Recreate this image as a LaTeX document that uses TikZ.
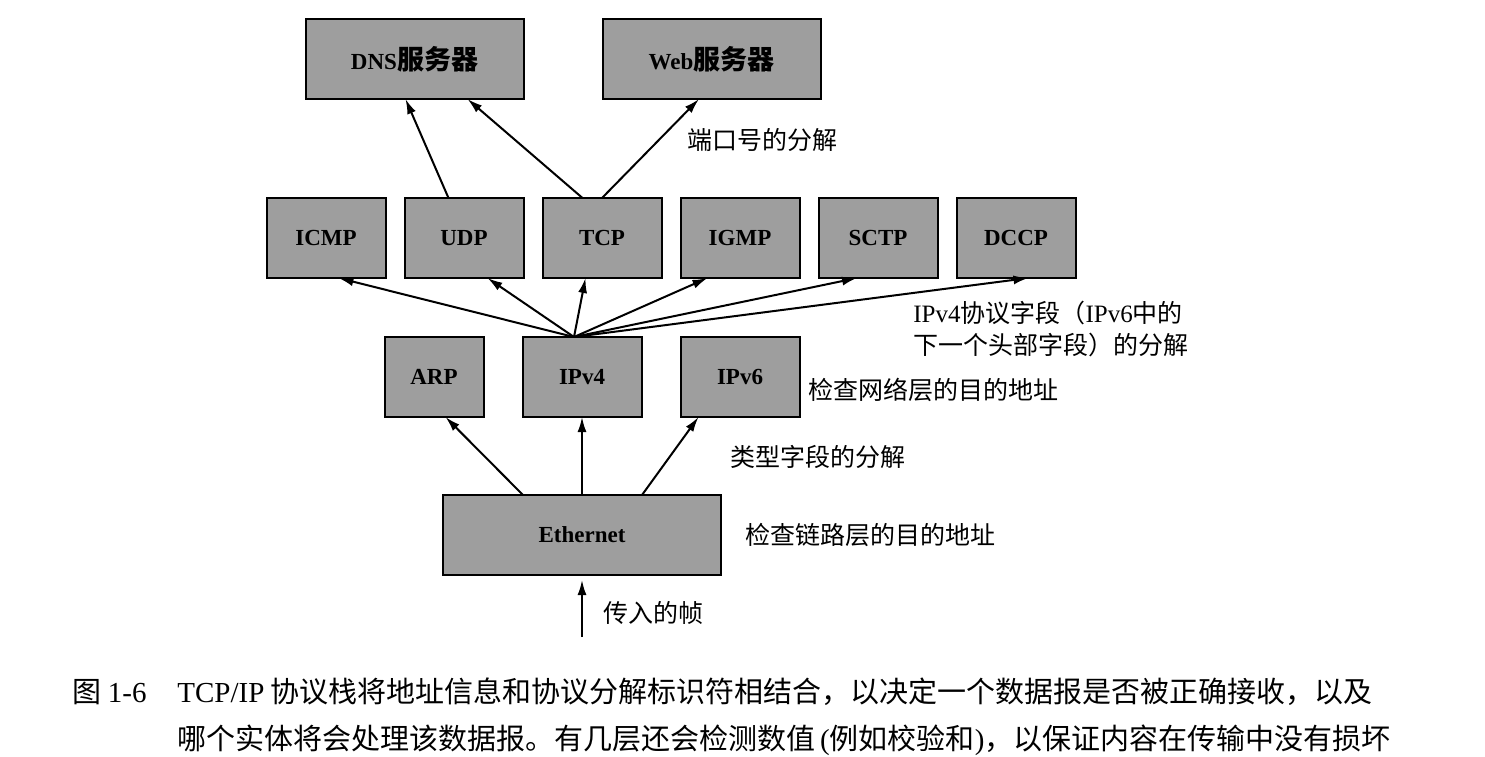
\documentclass[tikz,border=0pt]{standalone}
\usepackage{fontspec}
\setmainfont{Liberation Serif}
\newfontfamily\cjk{Noto Sans CJK SC}
\usetikzlibrary{positioning, arrows.meta, calc}
\newcommand{\zh}[1]{{\cjk\fontsize{13.5pt}{15pt}\selectfont #1}}
\tikzset{
  box/.style={rectangle, draw=black, line width=1pt, fill=black!38,
    minimum width=59.5pt, minimum height=40pt, inner sep=0pt, outer sep=0pt,
    font=\bfseries\fontsize{11.5pt}{13pt}\selectfont},
  wide/.style={box, minimum width=109pt},
  lbl/.style={inner sep=0pt, align=left, font=\cjk\fontsize{12.5pt}{16pt}\selectfont},
  captext/.style={inner sep=0pt, anchor=west, font=\cjk\fontsize{14.5pt}{18pt}\selectfont},
  flow/.style={-{Latex[length=7.5pt,width=4.5pt]}, line width=1pt},
}

\begin{document}
\begin{tikzpicture}[node distance=19.5pt]
    \useasboundingbox (0,0) rectangle (742.5pt,-378pt);
    \node[box, minimum width=139pt] (eth) at (291pt,-267.5pt) {Ethernet};
    \node[box, above=39pt of eth] (ipv4) {IPv4};
    \node[box, minimum width=49.5pt, left=of ipv4] (arp) {ARP};
    \node[box, right=of ipv4] (ipv6) {IPv6};
    \node[box, above=29.5pt of ipv4, xshift=10pt] (tcp) {TCP};
    \node[box, left=9.5pt of tcp] (udp) {UDP};
    \node[box, left=9.5pt of udp] (icmp) {ICMP};
    \node[box, right=9.5pt of tcp] (igmp) {IGMP};
    \node[box, right=9.5pt of igmp] (sctp) {SCTP};
    \node[box, right=9.5pt of sctp] (dccp) {DCCP};
    \node[wide, above=49.5pt of udp, xshift=-24.75pt] (dns) {DNS\zh{服务器}};
    \node[wide, right=39.5pt of dns] (web) {Web\zh{服务器}};
    % labels
    \node[lbl, anchor=west] (portlbl) at (343.5pt,-70pt) {端口号的分解};
    \node[lbl, anchor=west] (protolbl) at (456.5pt,-164.5pt) {\textrm{IPv4}协议字段（\textrm{IPv6}中的\\下一个头部字段）的分解};
    \node[lbl, right=4.5pt of ipv6, yshift=-6.5pt] (netlbl) {检查网络层的目的地址};
    \node[lbl, anchor=west] (typelbl) at (365pt,-228.5pt) {类型字段的分解};
    \node[lbl, right=12pt of eth] (linklbl) {检查链路层的目的地址};
    \coordinate[below=31pt of eth] (in);
    \node[lbl, anchor=west] (inlbl) at (301.5pt,-306.5pt) {传入的帧};
    % arrows
    \coordinate (fan) at ([xshift=-4pt]ipv4.north);
    \draw[flow] (in) -- ([yshift=-2.5pt]eth.south);
    \draw[flow] ([xshift=-29.5pt]eth.north) -- ([xshift=5.75pt]arp.south);
    \draw[flow] (eth) -- (ipv4);
    \draw[flow] ([xshift=30pt]eth.north) -- ([xshift=-20.75pt]ipv6.south);
    \draw[flow] (fan) -- ([xshift=6.25pt]icmp.south); \draw[flow] (fan) -- ([xshift=11.75pt]udp.south);
    \draw[flow] (fan) -- ([xshift=-8.25pt]tcp.south); \draw[flow] (fan) -- ([xshift=-16.25pt]igmp.south);
    \draw[flow] (fan) -- ([xshift=-10.5pt]sctp.south); \draw[flow] (fan) -- ([xshift=6.25pt]dccp.south);
    \draw[flow] ([xshift=-7.75pt]udp.north) -- ([xshift=-4.5pt]dns.south);
    \draw[flow] ([xshift=-9.75pt]tcp.north) -- ([xshift=26.5pt]dns.south);
    \draw[flow] (tcp.north) -- ([xshift=-6.25pt]web.south);
    % caption
    \node[captext] (fignum) at (36pt,-346pt) {图 \textrm{1-6}};
    \node[captext] (cap1) at (88.5pt,-346pt) {\textrm{TCP/IP} 协议栈将地址信息和协议分解标识符相结合，以决定一个数据报是否被正确接收，以及};
    \node[captext] (cap2) at (88.5pt,-370pt) {哪个实体将会处理该数据报。有几层还会检测数值\textrm{\,(}例如校验和\textrm{)}，以保证内容在传输中没有损坏};
  \end{tikzpicture}
\end{document}
